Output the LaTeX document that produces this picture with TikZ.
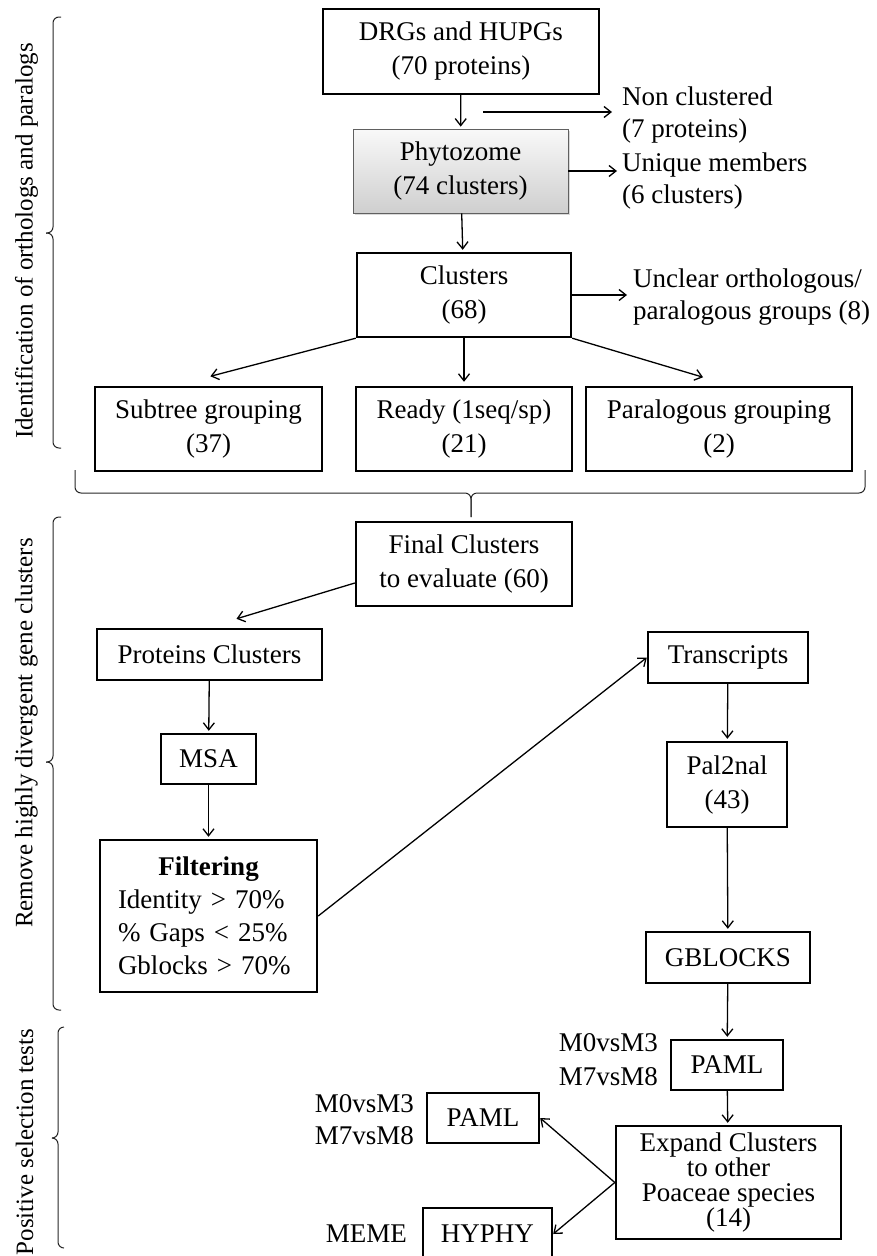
\documentclass[tikz,border=0pt]{standalone}
\usepackage{fontspec}
\setmainfont{Liberation Serif}
\usetikzlibrary{arrows.meta,shadows}
\newcommand\tightlines{\fontsize{27}{25}\selectfont\lineskiplimit=-50pt\relax}

\begin{document}
\begin{tikzpicture}[x=1pt, y=-1pt,
    font=\fontsize{27}{34}\selectfont,
    box/.style={draw, line width=2.4pt, inner sep=0pt, align=center},
    txt/.style={inner sep=0pt, align=left, font=\fontsize{27}{32}\selectfont},
    arr/.style={line width=1.3pt, shorten >=2pt, -{Straight Barb[length=7pt,width=11pt]}},
    brc/.style={line width=1pt, black!85, rounded corners=6pt},
    side/.style={rotate=90, inner sep=0pt, font=\fontsize{25}{30}\selectfont}]
  \useasboundingbox (0,0) rectangle (877,1256);

  % stage 1: orthologs and paralogs
  \node[box, minimum width=276, minimum height=85] (drg) at (461,51.5) {DRGs and HUPGs\\(70 proteins)};
  \node[box, line width=0.8pt, draw=gray!75!black, top color=gray!5, bottom color=gray!38,
        drop shadow={shadow xshift=1.5pt, shadow yshift=-2pt, opacity=0.3},
        minimum width=215, minimum height=84] (phyto) at (460.5,171) {Phytozome\\(74 clusters)};
  \node[box, minimum width=214, minimum height=84] (clus) at (464,295) {Clusters\\(68)};
  \node[box, minimum width=227, minimum height=84] (subtree) at (208.5,429) {Subtree grouping\\(37)};
  \node[box, minimum width=216, minimum height=84] (ready) at (464,429) {Ready (1seq/sp)\\(21)};
  \node[box, minimum width=266, minimum height=84] (paral) at (719,429) {Paralogous grouping\\(2)};

  \node[txt, anchor=west] (noncl) at (622,115) {Non clustered\\(7 proteins)};
  \node[txt, anchor=west] (uniq) at (622,181) {Unique members\\(6 clusters)};
  \node[txt, anchor=west] (uncl) at (633,297) {Unclear orthologous/\\paralogous groups (8)};

  \coordinate (ncstart) at (483,112);
  \draw[arr] (drg) -- (phyto);
  \draw[arr, shorten >=10pt] (ncstart) -- (ncstart -| noncl.west);
  \draw[arr, shorten >=5pt] (phyto.east) -- (phyto.east -| uniq.west);
  \draw[arr] (phyto) -- (clus);
  \draw[arr, shorten >=6pt] (clus.east) -- (clus.east -| uncl.west);
  \draw[arr] (clus.south west) -- ([yshift=9pt]subtree.north);
  \draw[arr] (clus.south) -- ([yshift=2pt]ready.north);
  \draw[arr] (clus.south east) -- ([xshift=-14pt,yshift=8pt]paral.north);

  % stage 2: divergent clusters
  \node[box, minimum width=216, minimum height=84] (final) at (464,564) {Final Clusters\\to evaluate (60)};
  \node[box, minimum width=225, minimum height=51] (prot) at (209.5,654.5) {Proteins Clusters};
  \node[box, minimum width=95, minimum height=50] (msa) at (208.5,759) {MSA};
  \node[box, minimum width=217, minimum height=152, text width=181, align=left,
        font=\fontsize{27}{33}\selectfont] (filt) at (208.5,916)
        {\makebox[\linewidth]{\textbf{Filtering}}\\Identity > 70\%\\\% Gaps < 25\%\\Gblocks > 70\%};
  \node[box, minimum width=160, minimum height=51] (trans) at (728,657.5) {Transcripts};
  \node[box, minimum width=120, minimum height=85] (pal) at (727,784.5) {Pal2nal\\(43)};
  \node[box, minimum width=164, minimum height=51] (gblk) at (728,957.5) {GBLOCKS};

  \draw[arr, shorten >=0pt] ([yshift=-19pt]final.west) -- ([xshift=27pt,yshift=9pt]prot.north);
  \draw[arr] (prot) -- (msa);
  \draw[arr] (msa) -- (filt);
  \draw[arr, shorten >=0pt] (filt.east) -- (trans.west);
  \draw[arr] (trans) -- (pal);
  \draw[arr] (pal) -- (gblk);

  % stage 3: selection tests
  \node[box, minimum width=112, minimum height=50] (paml) at (727,1065) {PAML};
  \node[box, minimum width=225, minimum height=113, font=\tightlines]
        (expand) at (728.5,1182.5) {Expand Clusters\\to other\\Poaceae species\\(14)};
  \node[box, minimum width=112, minimum height=50] (pamlb) at (483,1118) {PAML};
  \node[box, minimum width=129, minimum height=52] (hyphy) at (487.5,1234) {HYPHY};

  \node[txt, align=right, anchor=east, font=\fontsize{27}{34}\selectfont] (modr) at (658,1060) {M0vsM3\\M7vsM8};
  \node[txt, align=right, anchor=east] (modl) at (414,1120) {M0vsM3\\M7vsM8};
  \node[txt, anchor=east] (meme) at (407,1234) {MEME};

  \draw[arr] (gblk) -- (paml);
  \draw[arr] (paml) -- (expand);
  \draw[arr, shorten >=0pt] (expand.west) -- (pamlb.east);
  \draw[arr, shorten >=0pt] (expand.west) -- (hyphy.east);

  % braces and stage names
  \draw[brc] (61,17) -- (53,17) -- (53,233) -- (46,233);
  \draw[brc] (61,448) -- (53,448) -- (53,233) -- (46,233);
  \draw[brc] (75,470) -- (75,493) -- (471,493) -- (471,517);
  \draw[brc] (865,470) -- (865,493) -- (471,493) -- (471,517);
  \draw[brc] (61,517) -- (53,517) -- (53,762) -- (46,762);
  \draw[brc] (61,1010) -- (53,1010) -- (53,762) -- (46,762);
  \draw[brc] (64,1027) -- (58,1027) -- (58,1138) -- (52,1138);
  \draw[brc] (64,1248) -- (58,1248) -- (58,1138) -- (52,1138);

  \node[side] (lab1) at (26.5,241) {Identification of orthologs and paralogs};
  \node[side] (lab2) at (26.5,733) {Remove highly divergent gene clusters};
  \node[side] (lab3) at (24.5,1142) {Positive selection tests};
\end{tikzpicture}
\end{document}
